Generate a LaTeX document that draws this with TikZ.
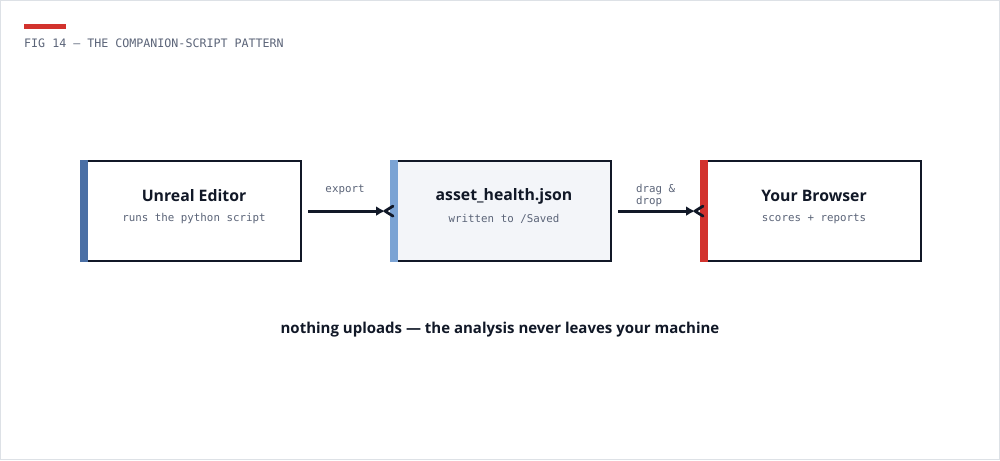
\documentclass[tikz,border=0pt]{standalone}
\usepackage{fontspec}
\setmainfont{Open Sans}
\setmonofont{DejaVu Sans Mono}
\usetikzlibrary{arrows.meta}
\definecolor{ink}{HTML}{111827}
\definecolor{mute}{HTML}{5B6478}
\definecolor{accred}{HTML}{D2322D}
\definecolor{accblue}{HTML}{4A6FA5}
\definecolor{acclight}{HTML}{7BA3D4}
\definecolor{paleb}{HTML}{F3F5F9}
\definecolor{frame}{HTML}{DDE1E6}
\tikzset{
  boxnode/.style={draw=ink, line width=2.2pt, minimum width=220pt, minimum height=100pt, inner sep=0pt, anchor=north west},
  ttl/.style={font=\fontsize{15.8}{20}\selectfont\bfseries, text=ink},
  sub/.style={font=\ttfamily\fontsize{10.8}{13}\selectfont, text=mute},
  conn/.style={draw=ink, line width=3pt, -{Latex[length=9pt,width=10pt]}},
  fork/.style={draw=ink, line width=2.8pt, line cap=round},
  lbl/.style={font=\ttfamily\fontsize{10.8}{12}\selectfont, text=mute}
}
\begin{document}
\begin{tikzpicture}[x=1pt,y=-1pt]
\useasboundingbox (0,0) rectangle (1000,460);
\draw[frame, line width=1.2pt] (0.6,0.6) rectangle (999.4,459.4);
\fill[accred] (24,24) rectangle (66,29);
\node[anchor=base west, inner sep=0pt, font=\ttfamily\fontsize{11.65}{13}\selectfont, text=mute] (fig) at (24,48) {FIG 14 — THE COMPANION-SCRIPT PATTERN};

% boxes
\node[boxnode, fill=white] (a) at (80,160) {};
\fill[accblue] (a.north west) rectangle ([xshift=8pt]a.south west);
\node[ttl] (at) at (194,196) {Unreal Editor};
\node[sub] (as) at (194,219) {runs the python script};

\node[boxnode, fill=paleb] (b) at (390,160) {};
\fill[acclight] (b.north west) rectangle ([xshift=8pt]b.south west);
\node[ttl] (bt) at (504,196) {asset\_health.json};
\node[sub] (bs) at (504,219) {written to /Saved};

\node[boxnode, fill=white] (c) at (700,160) {};
\fill[accred] (c.north west) rectangle ([xshift=8pt]c.south west);
\node[ttl] (ct) at (814,196) {Your Browser};
\node[sub] (cs) at (814,219) {scores + reports};

% connectors
\coordinate (t1) at ([xshift=-5pt]b.west);
\coordinate (t2) at ([xshift=-5pt]c.west);
\draw[conn] ([xshift=6pt]a.east) -- (t1);
\draw[fork] (t1) -- ++(8,-5) (t1) -- ++(8,5);
\draw[conn] ([xshift=6pt]b.east) -- (t2);
\draw[fork] (t2) -- ++(8,-5) (t2) -- ++(8,5);

\node[lbl] (l1) at (345,190) {export};
\node[lbl, anchor=west, align=left, inner sep=0pt] (l2) at (636,196) {drag \&\\drop};

\node[font=\fontsize{15}{18}\selectfont\bfseries, text=ink] (note) at (500,330) {nothing uploads — the analysis never leaves your machine};
\end{tikzpicture}
\end{document}
